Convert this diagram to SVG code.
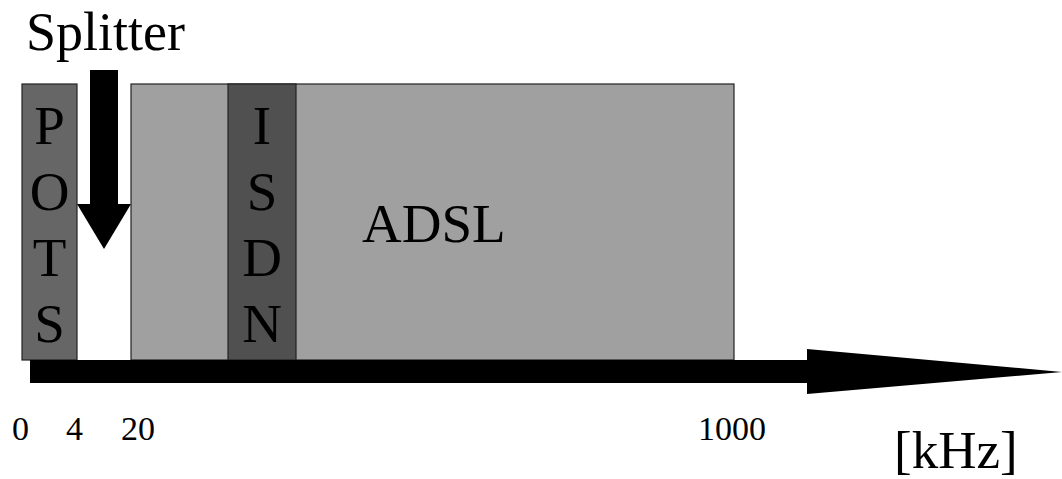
<svg xmlns="http://www.w3.org/2000/svg" width="1062" height="479" viewBox="0 0 1062 479">
<style>
.t { font-family: "Liberation Serif", "Times New Roman", Times, serif; fill: #000; }
.band { stroke: #222; stroke-width: 1.2; }
.big { font-size: 55px; }
.lbl { font-size: 34px; }
.col { font-size: 55px; text-anchor: middle; }
</style>
<rect width="1062" height="479" fill="#fff"/>
<g id="adsl">
  <rect class="band" x="131" y="84" width="603" height="276" fill="#a0a0a0"/>
  <text class="t big" x="362" y="242">ADSL</text>
</g>
<g id="pots">
  <rect class="band" x="22" y="84" width="55" height="276" fill="#666666"/>
  <text class="t col" x="49.5" y="144">P</text>
  <text class="t col" x="49.5" y="210">O</text>
  <text class="t col" x="49.5" y="276">T</text>
  <text class="t col" x="49.5" y="342">S</text>
</g>
<g id="isdn">
  <rect class="band" x="228" y="84" width="68" height="276" fill="#505050"/>
  <text class="t col" x="262" y="144">I</text>
  <text class="t col" x="262" y="210">S</text>
  <text class="t col" x="262" y="276">D</text>
  <text class="t col" x="262" y="342">N</text>
</g>
<g id="splitter">
  <text class="t" x="26" y="50" font-size="54">Splitter</text>
</g>
<g id="axis">
  <polygon points="30,360 807,360 807,349 1062,372 807,394 807,383 30,383" fill="#000"/>
  <text class="t lbl" x="12" y="440">0</text>
  <text class="t lbl" x="66" y="440">4</text>
  <text class="t lbl" x="121" y="440">20</text>
  <text class="t lbl" x="698" y="440">1000</text>
  <text class="t" x="894" y="468" font-size="53">[kHz]</text>
</g>
<g id="connectors">
  <polygon points="90,70 118,70 118,204 131,204 104,249 77,204 90,204" fill="#000"/>
</g>
</svg>
